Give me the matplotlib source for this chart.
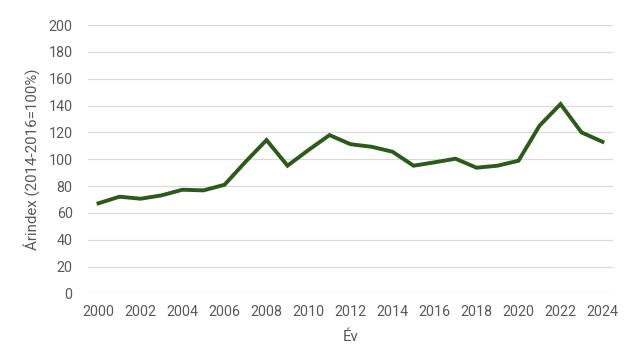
import matplotlib.pyplot as plt

years = list(range(2000, 2025))
price_index = [67.2, 72.1, 70.6, 73.1, 77.3, 76.8, 81.0, 98.1, 114.3, 95.2,
               106.9, 118.0, 111.2, 109.3, 105.6, 95.2, 97.7, 100.4, 93.7, 95.2,
               98.9, 125.0, 141.1, 120.0, 113.0]
x_ticks = list(range(2000, 2025, 2))
y_ticks = list(range(0, 201, 20))

plt.rcParams['font.family'] = ['Roboto', 'DejaVu Sans']
text_color = '#595959'

fig = plt.figure(figsize=(6.31, 3.64), dpi=100)
ax = fig.add_axes([0.1395, 0.1937, 0.832, 0.7376])

ax.plot(years, price_index, color='#2b5a1a', linewidth=2.8, clip_on=False,
        solid_joinstyle='miter')

ax.set_xlim(1999.5, 2024.5)
ax.set_ylim(0, 200)
ax.set_xticks(x_ticks)
ax.set_yticks(y_ticks)
ax.grid(axis='y', color='#d9d9d9', linewidth=0.9)
ax.set_axisbelow(True)
for s in ax.spines.values():
    s.set_visible(False)
ax.tick_params(axis='both', length=0, labelsize=10.3, labelcolor=text_color)
ax.tick_params(axis='y', pad=11)
ax.tick_params(axis='x', pad=8)

ax.set_xlabel('Év', fontsize=10.8, color=text_color, labelpad=8)
ax.set_ylabel('Árindex (2014-2016=100%)', fontsize=10.8, color=text_color, labelpad=6)

fig.savefig('out.png', dpi=100)
